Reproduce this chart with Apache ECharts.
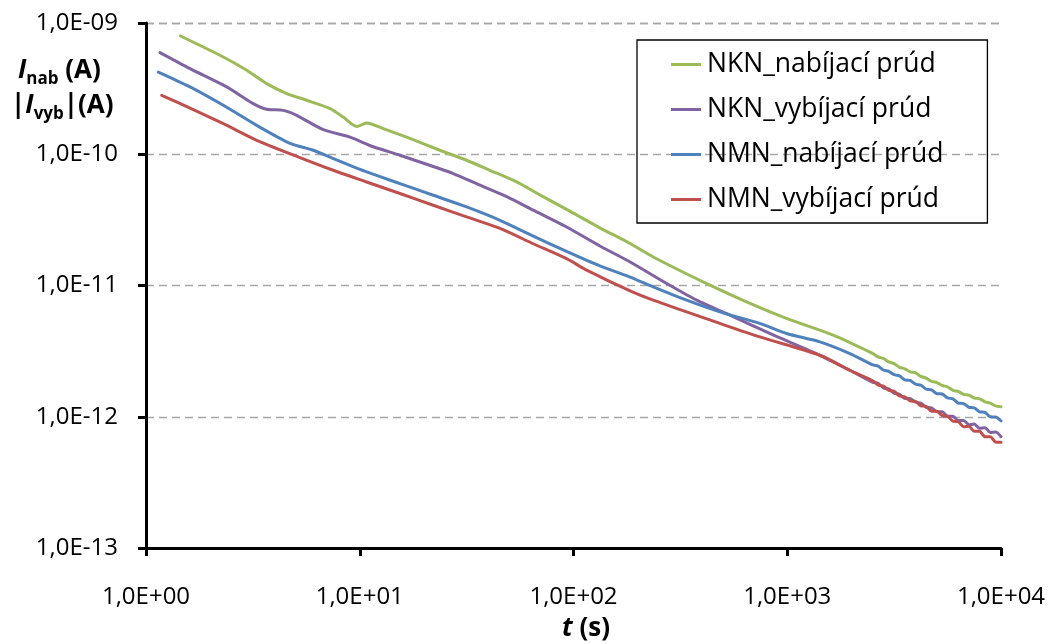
<!DOCTYPE html>
<html>
<head>
<meta charset="utf-8">
<script src="https://cdn.jsdelivr.net/npm/echarts@6/dist/echarts.min.js"></script>
<style>
html,body{margin:0;padding:0;background:#fff;}
#chart{width:1049px;height:644px;}
</style>
</head>
<body>
<div id="chart"></div>
<script>
// ---- data ----
const seriesNames = ['NKN_nabíjací prúd', 'NKN_vybíjací prúd', 'NMN_nabíjací prúd', 'NMN_vybíjací prúd'];

// early and middle part of each curve
const nknNabT = [1.45, 2.30, 2.96, 3.67, 4.55, 5.64, 7.26, 8.37, 9.67, 10.77, 12.88, 17.17, 23.72, 31.6, 40.6, 54.2, 69.6, 92.8, 132.9, 184, 236, 435, 645, 992, 1640];
const nknNabI = [7.96e-10, 5.51e-10, 4.36e-10, 3.45e-10, 2.90e-10, 2.58e-10, 2.23e-10, 1.92e-10, 1.63e-10, 1.73e-10, 1.57e-10, 1.32e-10, 1.073e-10, 9.00e-11, 7.55e-11, 6.15e-11, 4.90e-11, 3.80e-11, 2.75e-11, 2.09e-11, 1.65e-11, 1.005e-11, 7.50e-12, 5.61e-12, 4.18e-12];

const nknVybT = [1.163, 1.607, 2.385, 3.176, 3.67, 4.39, 5.07, 6.75, 9.00, 11.57, 15.42, 20.55, 27.37, 36.5, 48.7, 64.8, 92.8, 132.9, 184, 282, 377, 539, 829, 1421, 1963];
const nknVybI = [5.95e-10, 4.49e-10, 3.26e-10, 2.43e-10, 2.20e-10, 2.16e-10, 1.98e-10, 1.54e-10, 1.35e-10, 1.14e-10, 9.83e-11, 8.39e-11, 7.13e-11, 5.81e-11, 4.75e-11, 3.75e-11, 2.79e-11, 2.00e-11, 1.51e-11, 1.005e-11, 7.73e-12, 5.94e-12, 4.31e-12, 2.94e-12, 2.26e-12];

const nmnNabT = [1.142, 1.607, 2.30, 3.295, 4.72, 6.06, 7.52, 10.77, 15.42, 22.07, 31.6, 45.3, 64.8, 92.8, 132.9, 184, 236, 338, 484, 744, 992, 1421, 1963];
const nmnNabI = [4.23e-10, 3.26e-10, 2.36e-10, 1.66e-10, 1.21e-10, 1.073e-10, 9.27e-11, 7.33e-11, 5.98e-11, 4.87e-11, 3.97e-11, 3.14e-11, 2.38e-11, 1.82e-11, 1.41e-11, 1.16e-11, 9.76e-12, 7.73e-12, 6.30e-12, 5.14e-12, 4.31e-12, 3.72e-12, 3.03e-12];

const nmnVybT = [1.184, 1.607, 2.30, 3.295, 5.25, 7.52, 10.77, 15.42, 22.07, 31.6, 45.3, 64.8, 92.8, 115.2, 184, 236, 338, 484, 744, 1421, 1963];
const nmnVybI = [2.81e-10, 2.25e-10, 1.71e-10, 1.278e-10, 9.44e-11, 7.55e-11, 6.15e-11, 5.02e-11, 4.09e-11, 3.33e-11, 2.72e-11, 2.08e-11, 1.60e-11, 1.31e-11, 9.10e-12, 7.73e-12, 6.30e-12, 5.14e-12, 4.06e-12, 2.94e-12, 2.26e-12];

// noisy tail (t > 2500 s), shared time points
const tailT = [2512, 2661, 2818, 2985, 3162, 3350, 3548, 3758, 3981, 4217, 4467, 4732, 5012, 5309, 5623, 5957, 6310, 6683, 7079, 7499, 7943, 8414, 8913, 9441, 10000];
const nknNabTail = [3.03e-12, 2.86e-12, 2.78e-12, 2.62e-12, 2.54e-12, 2.38e-12, 2.32e-12, 2.20e-12, 2.16e-12, 2.03e-12, 1.97e-12, 1.86e-12, 1.82e-12, 1.73e-12, 1.69e-12, 1.59e-12, 1.56e-12, 1.48e-12, 1.46e-12, 1.39e-12, 1.37e-12, 1.30e-12, 1.27e-12, 1.21e-12, 1.19e-12];
const nknVybTail = [1.83e-12, 1.80e-12, 1.66e-12, 1.63e-12, 1.51e-12, 1.48e-12, 1.38e-12, 1.38e-12, 1.29e-12, 1.27e-12, 1.18e-12, 1.17e-12, 1.09e-12, 1.09e-12, 1.01e-12, 1.01e-12, 9.35e-13, 9.38e-13, 8.69e-13, 8.79e-13, 8.17e-13, 8.26e-13, 7.59e-13, 7.64e-13, 7.05e-13];
const nmnNabTail = [2.48e-12, 2.43e-12, 2.27e-12, 2.22e-12, 2.09e-12, 2.05e-12, 1.91e-12, 1.89e-12, 1.77e-12, 1.74e-12, 1.62e-12, 1.60e-12, 1.50e-12, 1.49e-12, 1.39e-12, 1.37e-12, 1.27e-12, 1.26e-12, 1.18e-12, 1.17e-12, 1.09e-12, 1.08e-12, 1.00e-12, 9.95e-13, 9.31e-13];
const nmnVybTail = [1.88e-12, 1.75e-12, 1.71e-12, 1.59e-12, 1.56e-12, 1.44e-12, 1.42e-12, 1.32e-12, 1.31e-12, 1.21e-12, 1.20e-12, 1.10e-12, 1.10e-12, 1.02e-12, 1.01e-12, 9.25e-13, 9.18e-13, 8.39e-13, 8.45e-13, 7.74e-13, 7.74e-13, 7.03e-13, 7.03e-13, 6.41e-13, 6.38e-13];

const xTickLabels = ['1,0E+00', '1,0E+01', '1,0E+02', '1,0E+03', '1,0E+04'];
const yTickLabels = ['1,0E-13', '1,0E-12', '1,0E-11', '1,0E-10', '1,0E-09'];

const colors = ['#9BBB59', '#8064A2', '#4F81BD', '#C0504D'];

function pairs(t, v) { return t.map((x, i) => [x, v[i]]); }

const FONT = '"Open Sans", "Noto Sans", sans-serif';

const chart = echarts.init(document.getElementById('chart'), null, {renderer: 'canvas'});

const seriesData = [
  pairs(nknNabT, nknNabI).concat(pairs(tailT, nknNabTail)),
  pairs(nknVybT, nknVybI).concat(pairs(tailT, nknVybTail)),
  pairs(nmnNabT, nmnNabI).concat(pairs(tailT, nmnNabTail)),
  pairs(nmnVybT, nmnVybI).concat(pairs(tailT, nmnVybTail))
];

const richTitle = {
  i: {fontSize: 26, fontWeight: 'bold', fontStyle: 'italic', fontFamily: FONT, fill: '#000', lineHeight: 34, verticalAlign: 'middle'},
  s: {fontSize: 17, fontWeight: 'bold', fontFamily: FONT, fill: '#000', lineHeight: 34, verticalAlign: 'bottom'},
  m: {fontSize: 26, fontWeight: 'bold', fontFamily: FONT, fill: '#000', lineHeight: 34, verticalAlign: 'middle'}
};

chart.setOption({
  animation: false,
  backgroundColor: '#fff',
  color: colors,
  textStyle: {fontFamily: FONT},
  grid: {left: 146, right: 48, top: 23, bottom: 96, containLabel: false},
  xAxis: {
    type: 'log', logBase: 10, min: 1, max: 10000,
    axisLine: {show: true, onZero: false, lineStyle: {color: '#000', width: 3}},
    axisTick: {show: true, length: 8, inside: false, lineStyle: {color: '#000', width: 3}},
    minorTick: {show: false},
    splitLine: {show: false},
    axisLabel: {
      margin: 37, fontSize: 24, color: '#000', fontFamily: FONT,
      formatter: v => xTickLabels[Math.round(Math.log10(v))]
    }
  },
  yAxis: {
    type: 'log', logBase: 10, min: 1e-13, max: 1e-9,
    axisLine: {show: true, lineStyle: {color: '#000', width: 3}},
    axisTick: {show: true, length: 8, inside: false, lineStyle: {color: '#000', width: 3}},
    splitLine: {show: true, lineStyle: {color: '#a6a6a6', width: 1.3, type: [8, 5]}},
    axisLabel: {
      margin: 28, fontSize: 24, color: '#000', fontFamily: FONT,
      formatter: v => yTickLabels[Math.round(Math.log10(v)) + 13]
    }
  },
  legend: {
    orient: 'vertical', left: 637, top: 40,
    icon: 'rect', itemWidth: 30, itemHeight: 3, itemGap: 18,
    padding: [11, 44, 10, 34],
    borderColor: '#000', borderWidth: 1.3,
    textStyle: {fontSize: 26.5, color: '#000', fontFamily: FONT, padding: [0, 0, 0, 1]},
    data: seriesNames
  },
  graphic: [
    {type: 'text', left: 18, top: 58, style: {text: '{i|I}{s|nab}{m| (A)}', rich: richTitle}},
    {type: 'text', left: 11, top: 93, style: {text: '{m||}{i|I}{s|vyb}{m||(A)}', rich: richTitle}},
    {
      type: 'text', left: 562, top: 616,
      style: {
        text: '{i|t}{m| (s)}',
        rich: {
          i: {fontSize: 26, fontWeight: 'bold', fontStyle: 'italic', fontFamily: FONT, fill: '#000'},
          m: {fontSize: 26, fontWeight: 'bold', fontFamily: FONT, fill: '#000'}
        }
      }
    }
  ],
  series: seriesNames.map((name, k) => ({
    name: name,
    type: 'line',
    data: seriesData[k],
    showSymbol: false,
    symbol: 'none',
    smooth: 0.25,
    lineStyle: {width: 3, color: colors[k], join: 'round', cap: 'round'},
    itemStyle: {color: colors[k]},
    z: 2 + k
  }))
});
</script>
</body>
</html>
